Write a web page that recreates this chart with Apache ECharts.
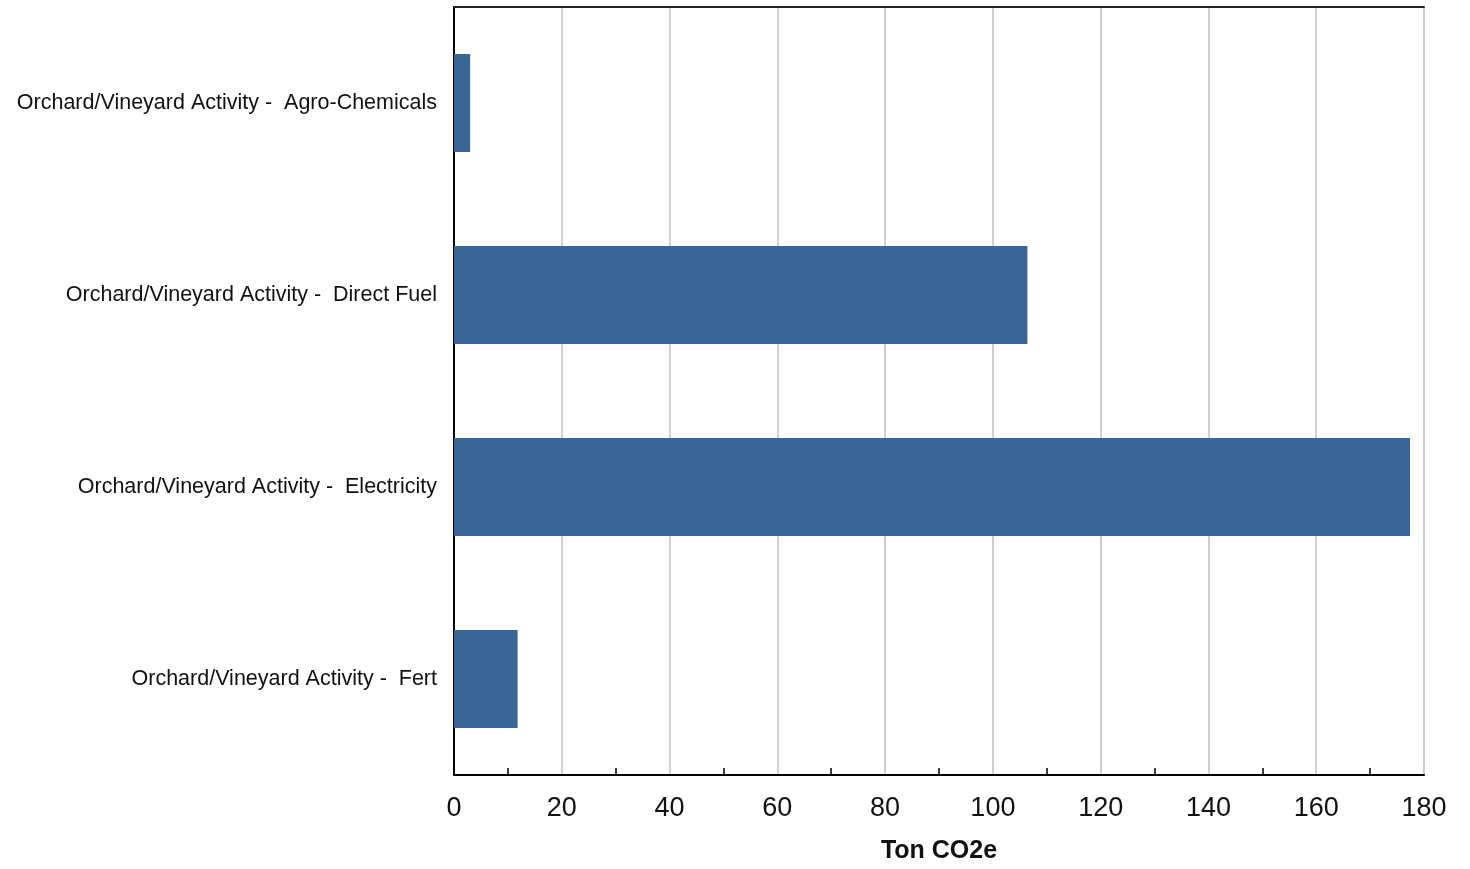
<!DOCTYPE html>
<html>
<head>
<meta charset="utf-8">
<script src="https://cdn.jsdelivr.net/npm/echarts@6/dist/echarts.min.js"></script>
<style>html,body{margin:0;padding:0;background:#fff}#c{width:1470px;height:869px}</style>
</head>
<body>
<div id="c"></div>
<script>
const categories = [
  'Orchard/Vineyard Activity -  Agro-Chemicals',
  'Orchard/Vineyard Activity -  Direct Fuel',
  'Orchard/Vineyard Activity -  Electricity',
  'Orchard/Vineyard Activity -  Fert'
];
const values = [3.0, 106.4, 177.4, 11.8];
const axisName = 'Ton CO2e';

const chart = echarts.init(document.getElementById('c'));
chart.setOption({
  animation: false,
  backgroundColor: '#fff',
  textStyle: { fontFamily: 'Liberation Sans, Arial, sans-serif' },
  grid: { left: 454, right: 46, top: 7, bottom: 93, containLabel: false },
  xAxis: [{
    type: 'value', min: 0, max: 180, interval: 20, position: 'bottom',
    name: axisName, nameLocation: 'middle', nameGap: 64,
    nameTextStyle: { fontSize: 25, fontWeight: 'bold', color: '#111' },
    axisLine: { show: true, lineStyle: { color: '#000', width: 2 } },
    axisTick: { show: false, inside: true },
    minorTick: { show: true, splitNumber: 2, length: 7, lineStyle: { color: '#000', width: 1.5 } },
    axisLabel: { fontSize: 27, color: '#111', margin: 20 },
    splitLine: { show: true, lineStyle: { color: '#c4c4c4', width: 1.6 } }
  }, {
    type: 'value', min: 0, max: 180, position: 'top',
    axisLine: { show: true, onZero: false, lineStyle: { color: '#222', width: 2 } },
    axisTick: { show: false }, axisLabel: { show: false }, splitLine: { show: false }
  }],
  yAxis: {
    type: 'category', data: categories, inverse: true,
    axisLine: { show: true, lineStyle: { color: '#000', width: 2 } },
    axisTick: { show: false },
    axisLabel: { fontSize: 21.5, color: '#111', margin: 17 },
    splitLine: { show: false }
  },
  series: [{
    type: 'bar', data: values, barWidth: 98, xAxisIndex: 0,
    itemStyle: { color: '#3A6595' }
  }]
});
</script>
</body>
</html>
